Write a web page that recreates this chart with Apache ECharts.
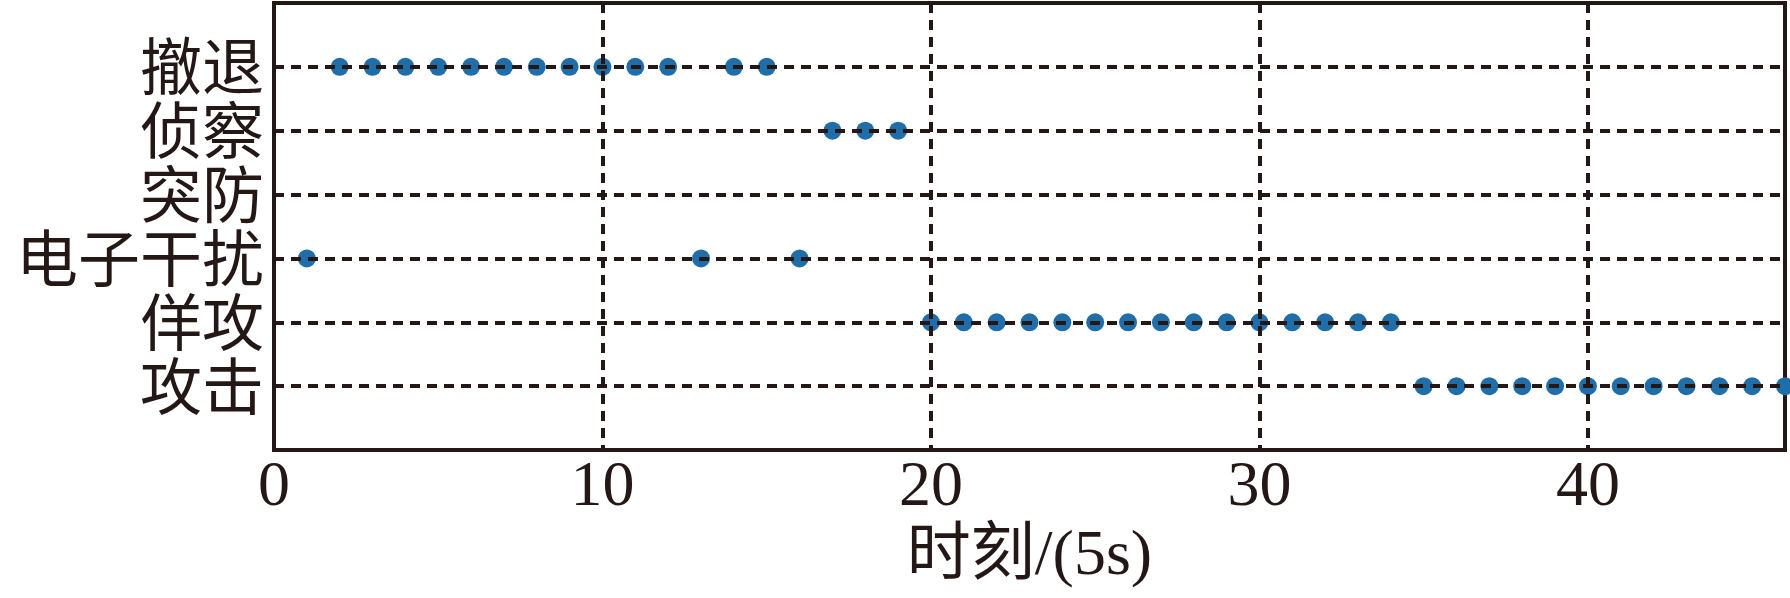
<!DOCTYPE html>
<html>
<head>
<meta charset="utf-8">
<script src="https://cdn.jsdelivr.net/npm/echarts@6/dist/echarts.min.js"></script>
<style>
html,body{margin:0;padding:0;background:#fff;}
#chart{width:1790px;height:598px;}
</style>
</head>
<body>
<div id="chart"></div>
<script>
// Categories (y levels from bottom to top)
const categories = ['攻击', '佯攻', '电子干扰', '突防', '侦察', '撤退'];
// Time moments (x values) for each behaviour
const attackTimes = [35, 36, 37, 38, 39, 40, 41, 42, 43, 44, 45, 46];
const feintTimes = [20, 21, 22, 23, 24, 25, 26, 27, 28, 29, 30, 31, 32, 33, 34];
const jammingTimes = [1, 13, 16];
const penetrateTimes = [];
const reconTimes = [17, 18, 19];
const retreatTimes = [2, 3, 4, 5, 6, 7, 8, 9, 10, 11, 12, 14, 15];
const xTicks = [0, 10, 20, 30, 40];
const xName = '时刻/(5s)';

const timesByCategory = [attackTimes, feintTimes, jammingTimes, penetrateTimes, reconTimes, retreatTimes];
const points = [];
timesByCategory.forEach((times, i) => {
  times.forEach(t => points.push([t, i + 1]));
});

const ink = '#231815';
const chart = echarts.init(document.getElementById('chart'));
chart.setOption({
  animation: false,
  grid: {
    left: 274, right: 5, top: 3, bottom: 148,
    show: true, borderColor: ink, borderWidth: 4, backgroundColor: 'transparent'
  },
  xAxis: {
    type: 'value', min: 0, max: 46, interval: 10, z: 5,
    name: xName, nameLocation: 'middle', nameGap: 66,
    nameTextStyle: { fontFamily: 'Liberation Serif, Noto Sans CJK SC', fontSize: 64, color: ink },
    axisLine: { show: true, lineStyle: { color: ink, width: 4 } },
    axisTick: { show: false },
    axisLabel: {
      fontFamily: 'Liberation Serif', fontSize: 64, color: ink, margin: 6,
      showMaxLabel: false,
      formatter: v => (xTicks.indexOf(v) >= 0 ? String(v) : '')
    },
    splitLine: { show: true, showMinLine: false, showMaxLine: false, lineStyle: { color: ink, width: 4, type: [10, 7] } }
  },
  yAxis: {
    type: 'value', min: 0, max: 7, interval: 1, z: 5,
    axisLine: { show: true, lineStyle: { color: ink, width: 4 } },
    axisTick: { show: false },
    axisLabel: {
      fontFamily: 'Noto Sans CJK SC', fontSize: 62, color: ink, margin: 10,
      formatter: v => (v >= 1 && v <= categories.length ? categories[v - 1] : '')
    },
    splitLine: { show: true, showMinLine: false, showMaxLine: false, lineStyle: { color: ink, width: 4, type: [10, 7] } }
  },
  series: [{
    type: 'scatter',
    z: 1,
    symbolSize: 18,
    itemStyle: { color: '#1f6eaa', opacity: 1 },
    data: points
  }]
});
</script>
</body>
</html>
